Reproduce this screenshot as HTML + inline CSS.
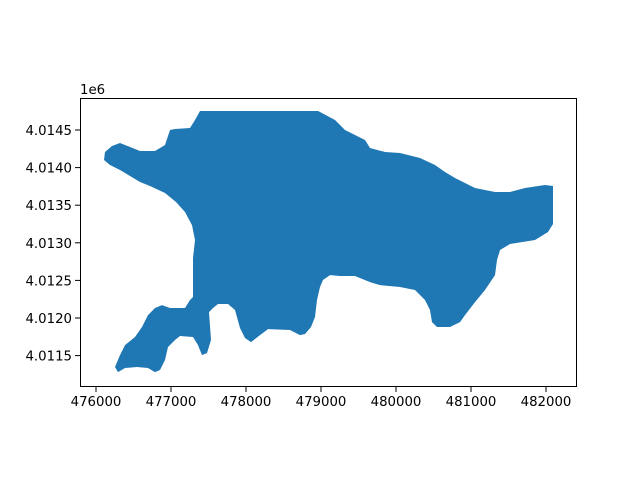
<!DOCTYPE html>
<html><head><meta charset="utf-8"><style>
body{margin:0;background:#fff}
svg text{font-family:"DejaVu Sans","Liberation Sans",sans-serif;font-size:13.3px;fill:#000}
</style></head><body>
<svg id="chart" width="640" height="480" xmlns="http://www.w3.org/2000/svg">
<rect width="640" height="480" fill="#fff"/>
<g id="plot"></g>
<rect x="80.5" y="98.5" width="496" height="288" fill="none" stroke="#000" stroke-width="1"/>
<g id="xt"></g>
<g id="yt"></g>
<text x="80" y="94">1e6</text>
</svg>
<script>
const polyX=[477387,478960,478987,479187,479320,479587,479653,479853,480053,480320,480520,480653,480787,480920,481053,481320,481520,481720,481987,482093,482093,482027,481853,481520,481387,481347,481320,481187,481053,480920,480853,480720,480547,480480,480453,480387,480253,480053,479787,479653,479453,479253,479120,479027,478987,478947,478920,478867,478787,478720,478587,478293,478187,478067,477987,477920,477853,477760,477627,477560,477507,477533,477480,477413,477360,477293,477120,477053,476960,476920,476853,476787,476693,476547,476387,476293,476253,476320,476387,476520,476613,476693,476787,476880,476987,477187,477253,477293,477293,477320,477280,477187,477067,476920,476720,476587,476453,476320,476187,476107,476120,476213,476320,476453,476587,476787,476920,476987,477053,477253,477320];
const polyY=[4014753,4014753,4014739,4014633,4014500,4014367,4014261,4014207,4014194,4014128,4014034,4013941,4013862,4013795,4013729,4013675,4013675,4013729,4013768,4013755,4013250,4013143,4013037,4012984,4012904,4012771,4012571,4012372,4012212,4012039,4011946,4011880,4011880,4011946,4012106,4012239,4012372,4012412,4012438,4012478,4012558,4012558,4012571,4012505,4012412,4012239,4012013,4011880,4011787,4011773,4011840,4011853,4011773,4011680,4011734,4011867,4012106,4012186,4012186,4012133,4012079,4011707,4011534,4011507,4011640,4011747,4011760,4011707,4011614,4011441,4011308,4011281,4011335,4011348,4011335,4011281,4011348,4011507,4011640,4011747,4011880,4012039,4012133,4012172,4012133,4012133,4012239,4012279,4012798,4013037,4013236,4013409,4013542,4013662,4013755,4013808,4013888,4013968,4014034,4014101,4014207,4014287,4014327,4014274,4014221,4014221,4014300,4014500,4014513,4014527,4014633];
const xTicks=[476000,477000,478000,479000,480000,481000,482000];
const yTicks=[4011500,4012000,4012500,4013000,4013500,4014000,4014500];
const yTickLabels=["4.0115","4.0120","4.0125","4.0130","4.0135","4.0140","4.0145"];
const sx=v=>96+(v-476000)*0.075;
const sy=v=>130+(4014500-v)*0.0752;
const NS="http://www.w3.org/2000/svg";
const plot=document.getElementById('plot');
const poly=document.createElementNS(NS,'polygon');


poly.setAttribute('points',polyX.map((x,i)=>sx(x).toFixed(1)+','+sy(polyY[i]).toFixed(1)).join(' '));
poly.setAttribute('fill','#1f77b4');
plot.appendChild(poly);
const xt=document.getElementById('xt');
xTicks.forEach(v=>{
  const x=sx(v);
  const l=document.createElementNS(NS,'line');
  
  
  l.setAttribute('x1',x);l.setAttribute('x2',x);l.setAttribute('y1',387);l.setAttribute('y2',392);l.setAttribute('stroke','#000');
  xt.appendChild(l);
  const t=document.createElementNS(NS,'text');
  
  
  t.setAttribute('x',x);t.setAttribute('y',406);t.setAttribute('text-anchor','middle');
  t.textContent=String(v);
  xt.appendChild(t);
});
const yt=document.getElementById('yt');
yTicks.forEach((v,i)=>{
  const y=sy(v);
  const l=document.createElementNS(NS,'line');
  
  
  l.setAttribute('x1',75);l.setAttribute('x2',80);l.setAttribute('y1',y);l.setAttribute('y2',y);l.setAttribute('stroke','#000');
  yt.appendChild(l);
  const t=document.createElementNS(NS,'text');
  
  
  t.setAttribute('x',72);t.setAttribute('y',y+5);t.setAttribute('text-anchor','end');
  t.textContent=yTickLabels[i];
  yt.appendChild(t);
});
</script>
</body></html>
